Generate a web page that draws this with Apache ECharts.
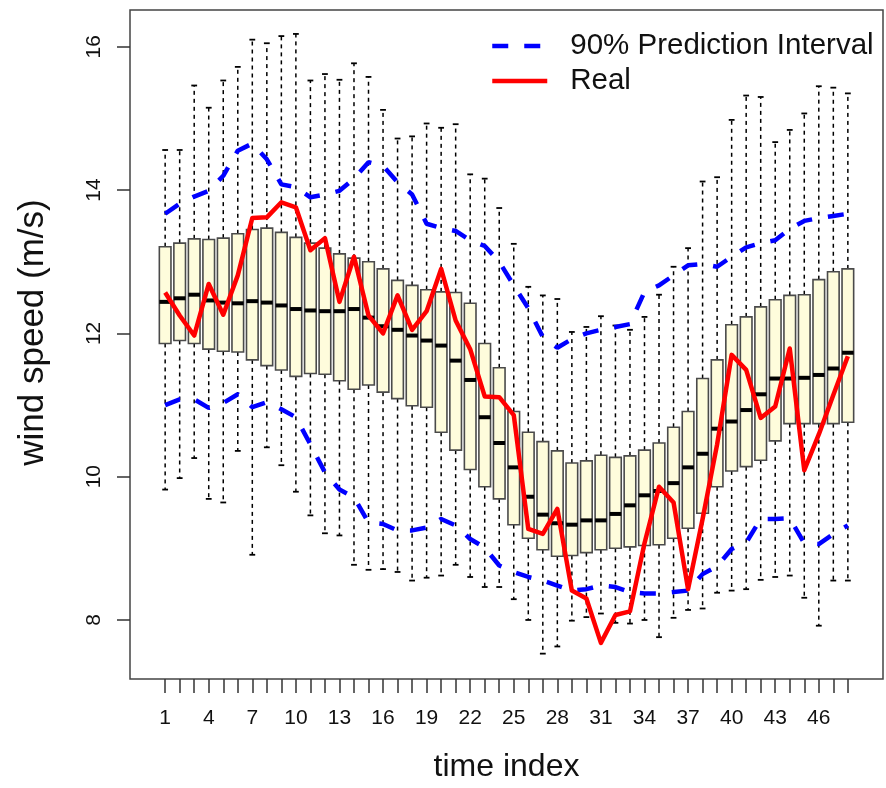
<!DOCTYPE html>
<html>
<head>
<meta charset="utf-8">
<script src="https://cdn.jsdelivr.net/npm/echarts@6/dist/echarts.min.js"></script>
<style>
  html, body { margin: 0; padding: 0; background: #fff; }
  #chart { width: 886px; height: 788px; }
</style>
</head>
<body>
<div id="chart"></div>
<script>
// time index 1..48
var timeIndex = [];
for (var k = 1; k <= 48; k++) timeIndex.push(k);

var xLabelValues = [1, 4, 7, 10, 13, 16, 19, 22, 25, 28, 31, 34, 37, 40, 43, 46];
var yTickValues = [8, 10, 12, 14, 16];

// boxplot stats
var whiskerHigh = [14.56, 14.56, 15.46, 15.15, 15.53, 15.72, 16.10, 16.05, 16.15, 16.18, 15.53, 15.62, 15.54, 15.77, 15.58, 15.12,
  14.72, 14.75, 14.93, 14.87, 14.92, 14.22, 14.16, 13.75, 13.25, 12.65, 12.53, 12.48, 12.02, 12.09, 12.24, 12.11,
  12.05, 12.23, 12.54, 12.93, 13.19, 14.12, 14.18, 14.98, 15.32, 15.30, 14.67, 14.84, 15.07, 15.45, 15.43, 15.35];
var q3 = [13.21, 13.26, 13.32, 13.31, 13.33, 13.39, 13.45, 13.47, 13.41, 13.34, 13.26, 13.19, 13.11, 13.05, 13.00, 12.90,
  12.74, 12.67, 12.61, 12.58, 12.57, 12.42, 11.86, 11.52, 10.91, 10.62, 10.49, 10.36, 10.19, 10.22, 10.30, 10.27,
  10.29, 10.37, 10.47, 10.69, 10.91, 11.37, 11.63, 12.12, 12.23, 12.37, 12.47, 12.53, 12.54, 12.75, 12.86, 12.90];
var median = [12.44, 12.49, 12.54, 12.46, 12.43, 12.42, 12.45, 12.43, 12.39, 12.34, 12.32, 12.31, 12.31, 12.34, 12.22, 12.10,
  12.05, 11.97, 11.90, 11.83, 11.62, 11.35, 10.83, 10.47, 10.13, 9.72, 9.47, 9.35, 9.33, 9.39, 9.39, 9.48,
  9.60, 9.74, 9.80, 9.91, 10.13, 10.32, 10.67, 10.77, 10.93, 11.15, 11.37, 11.37, 11.38, 11.42, 11.51, 11.73];
var q1 = [11.86, 11.90, 11.86, 11.78, 11.75, 11.74, 11.63, 11.55, 11.49, 11.40, 11.44, 11.43, 11.34, 11.22, 11.28, 11.18,
  11.09, 10.99, 10.97, 10.62, 10.37, 10.10, 9.86, 9.69, 9.33, 9.14, 8.98, 8.89, 8.90, 8.94, 8.98, 9.00,
  9.02, 9.04, 9.05, 9.14, 9.28, 9.49, 9.86, 10.08, 10.14, 10.23, 10.50, 10.74, 10.74, 10.74, 10.74, 10.76];
var whiskerLow = [9.82, 9.98, 10.26, 9.69, 9.64, 10.36, 8.91, 10.41, 10.16, 9.79, 9.46, 9.21, 9.18, 8.77, 8.70, 8.71,
  8.67, 8.55, 8.59, 8.62, 8.77, 8.60, 8.46, 8.46, 8.29, 8.00, 7.53, 7.63, 7.99, 8.04, 8.09, 7.96,
  7.95, 8.00, 7.76, 8.03, 8.14, 8.16, 8.38, 8.41, 8.43, 8.56, 8.60, 8.62, 8.31, 7.92, 8.55, 8.55];

// real wind speed and prediction interval bounds
var realSpeed = [12.57, 12.25, 11.97, 12.69, 12.26, 12.81, 13.61, 13.62, 13.83, 13.76, 13.16, 13.33, 12.44, 13.07, 12.25, 12.00,
  12.53, 12.05, 12.31, 12.90, 12.18, 11.78, 11.12, 11.11, 10.86, 9.27, 9.20, 9.55, 8.41, 8.30, 7.68, 8.07,
  8.12, 9.07, 9.86, 9.64, 8.43, 9.41, 10.45, 11.70, 11.49, 10.82, 10.98, 11.79, 10.09, 10.59, 11.14, 11.68];
var upperPI = [13.67, 13.81, 13.91, 13.99, 14.20, 14.55, 14.65, 14.43, 14.08, 14.04, 13.90, 13.94, 13.99, 14.16, 14.39, 14.34,
  14.11, 13.94, 13.53, 13.47, 13.43, 13.30, 13.22, 13.00, 12.67, 12.35, 11.95, 11.80, 11.92, 12.00, 12.05, 12.09,
  12.13, 12.58, 12.67, 12.81, 12.95, 12.97, 12.93, 13.07, 13.20, 13.26, 13.30, 13.46, 13.57, 13.61, 13.64, 13.67];
var lowerPI = [11.00, 11.08, 11.08, 10.96, 11.03, 11.15, 10.97, 11.04, 10.94, 10.83, 10.45, 10.06, 9.82, 9.71, 9.36, 9.34,
  9.25, 9.25, 9.29, 9.41, 9.32, 9.13, 9.01, 8.76, 8.67, 8.60, 8.55, 8.48, 8.41, 8.43, 8.48, 8.46,
  8.39, 8.37, 8.37, 8.39, 8.41, 8.64, 8.75, 8.99, 9.08, 9.41, 9.41, 9.42, 9.07, 9.06, 9.20, 9.32];

var fontFam = 'Liberation Sans, Arial, Helvetica, sans-serif';

function pairs(arr) {
  return timeIndex.map(function (t, i) { return [t, arr[i]]; });
}

var boxData = timeIndex.map(function (t, i) {
  return [t, whiskerLow[i], q1[i], median[i], q3[i], whiskerHigh[i]];
});

function renderBox(params, api) {
  var x = api.value(0);
  var lo = api.coord([x, api.value(1)]);
  var b1 = api.coord([x, api.value(2)]);
  var md = api.coord([x, api.value(3)]);
  var b3 = api.coord([x, api.value(4)]);
  var hi = api.coord([x, api.value(5)]);
  var w = api.size([0.8, 0])[0];
  var h = w / 2, s = w / 4;
  var cx = lo[0];
  var dash = { stroke: '#000', lineWidth: 1.5, lineDash: [4, 4] };
  var solid = { stroke: '#000', lineWidth: 1.8 };
  return {
    type: 'group',
    children: [
      { type: 'line', shape: { x1: cx, y1: b3[1], x2: cx, y2: hi[1] }, style: dash },
      { type: 'line', shape: { x1: cx, y1: b1[1], x2: cx, y2: lo[1] }, style: dash },
      { type: 'line', shape: { x1: cx - s, y1: hi[1], x2: cx + s, y2: hi[1] }, style: solid },
      { type: 'line', shape: { x1: cx - s, y1: lo[1], x2: cx + s, y2: lo[1] }, style: solid },
      { type: 'rect', shape: { x: cx - h, y: b3[1], width: w, height: b1[1] - b3[1] },
        style: { fill: '#FEFCDC', stroke: '#4a4a4a', lineWidth: 1.6 } },
      { type: 'line', shape: { x1: cx - h, y1: md[1], x2: cx + h, y2: md[1] },
        style: { stroke: '#000', lineWidth: 4 } }
    ]
  };
}

var myChart = echarts.init(document.getElementById('chart'));
var option = {
  animation: false,
  backgroundColor: '#fff',
  textStyle: { fontFamily: fontFam },
  grid: {
    left: 130, right: 3, top: 10, bottom: 106,
    show: true, borderColor: '#444', borderWidth: 1.5
  },
  legend: {
    orient: 'vertical',
    left: 485, top: 26,
    itemWidth: 55, itemHeight: 14, itemGap: 5,
    data: ['90% Prediction Interval', 'Real'],
    itemStyle: { opacity: 0 },
    lineStyle: { width: 4.5 },
    textStyle: { fontSize: 29.5, color: '#111', fontFamily: fontFam, lineHeight: 30, padding: [0, 0, 0, 18] }
  },
  xAxis: {
    type: 'value',
    min: -1.42, max: 50.42,
    name: 'time index',
    nameLocation: 'middle',
    nameGap: 72,
    nameTextStyle: { fontSize: 32, color: '#111', fontFamily: fontFam },
    axisLine: { show: false, onZero: false },
    splitLine: { show: false },
    axisTick: { show: true, customValues: timeIndex, length: 14, lineStyle: { color: '#333', width: 1.5 } },
    axisLabel: { customValues: xLabelValues, fontSize: 21, color: '#111', margin: 29, fontFamily: fontFam }
  },
  yAxis: {
    type: 'value',
    min: 7.176, max: 16.514,
    name: 'wind speed (m/s)',
    nameLocation: 'middle',
    nameRotate: 90,
    nameGap: 79,
    nameTextStyle: { fontSize: 35, color: '#111', fontFamily: fontFam, padding: [0, 0, 0, 24] },
    axisLine: { show: false, onZero: false },
    splitLine: { show: false },
    axisTick: { show: true, customValues: yTickValues, length: 13, lineStyle: { color: '#333', width: 1.5 } },
    axisLabel: { customValues: yTickValues, rotate: 90, fontSize: 21, color: '#111', margin: 25, fontFamily: fontFam }
  },
  series: [
    {
      type: 'custom',
      name: 'box',
      renderItem: renderBox,
      encode: { x: 0, y: [1, 2, 3, 4, 5] },
      data: boxData,
      z: 1
    },
    {
      type: 'line', name: '90% Prediction Interval',
      data: pairs(upperPI), symbol: 'none', z: 3,
      lineStyle: { color: '#0000FF', width: 4.5, type: [16, 16], cap: 'butt' },
      itemStyle: { color: '#0000FF' }
    },
    {
      type: 'line', name: '90% Prediction Interval',
      data: pairs(lowerPI), symbol: 'none', z: 3,
      lineStyle: { color: '#0000FF', width: 4.5, type: [16, 16], cap: 'butt' },
      itemStyle: { color: '#0000FF' }
    },
    {
      type: 'line', name: 'Real',
      data: pairs(realSpeed), symbol: 'none', z: 4,
      lineStyle: { color: '#FF0000', width: 4.5, join: 'round' },
      itemStyle: { color: '#FF0000' }
    }
  ]
};
myChart.setOption(option);
</script>
</body>
</html>
